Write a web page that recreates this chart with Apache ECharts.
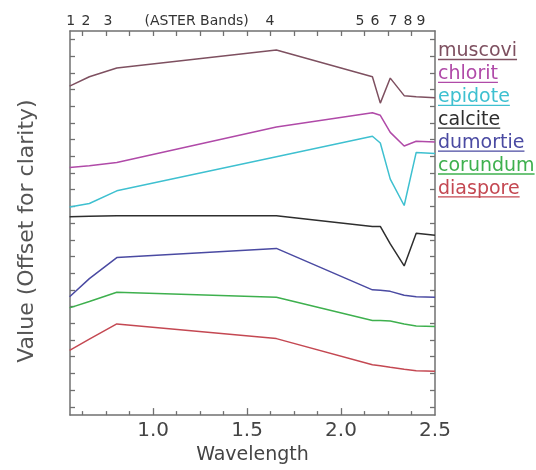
<!DOCTYPE html>
<html>
<head>
<meta charset="utf-8">
<script src="https://cdn.jsdelivr.net/npm/echarts@6/dist/echarts.min.js"></script>
<style>
html, body { margin: 0; padding: 0; background: #fff; }
#chart { width: 536px; height: 470px; }
</style>
</head>
<body>
<div id="chart"></div>
<script>
// ASTER band centres (um); last value is the right edge of the plot
const wavelengths = [0.556, 0.661, 0.807, 1.656, 2.167, 2.209, 2.262, 2.336, 2.400, 2.5];

const minerals = ['muscovi', 'chlorit', 'epidote', 'calcite', 'dumortie', 'corundum', 'diaspore'];
const mineralColors = ['#7e5060', '#b04aa8', '#3ec0d0', '#2e2e2e', '#4a4aa2', '#3eb04e', '#c44852'];

// values (offset units)
const muscovite = [19.70, 20.26, 20.78, 21.86, 20.26, 18.68, 20.18, 19.13, 19.07, 19.00];
const chlorite = [14.83, 14.93, 15.12, 17.25, 18.10, 17.95, 16.93, 16.11, 16.40, 16.35];
const epidote = [12.46, 12.67, 13.43, 15.47, 16.70, 16.29, 14.13, 12.55, 15.73, 15.67];
const calcite = [11.88, 11.91, 11.94, 11.94, 11.30, 11.30, 10.25, 8.93, 10.89, 10.77];
const dumortierite = [7.09, 8.17, 9.43, 9.98, 7.50, 7.47, 7.41, 7.18, 7.09, 7.06];
const corundum = [6.42, 6.80, 7.36, 7.06, 5.66, 5.66, 5.63, 5.46, 5.34, 5.31];
const diaspore = [3.88, 4.55, 5.46, 4.58, 3.01, 2.95, 2.86, 2.74, 2.66, 2.63];

const spectra = [muscovite, chlorite, epidote, calcite, dumortierite, corundum, diaspore];

// axis labels
const wavelengthLabels = [1.0, 1.5, 2.0, 2.5];
const bandLabels = ['1', '2', '3', '(ASTER Bands)', '4', '5', '6', '7', '8', '9'];
const bandLabelPos = [0.562, 0.643, 0.760, 1.232, 1.622, 2.101, 2.181, 2.276, 2.356, 2.425];

// tick positions
const majorTicks = [1.0, 1.5, 2.0];
const minorTicks = [];
for (let v = 0.625; v < 2.5; v += 0.125) {
  if (majorTicks.indexOf(Math.round(v * 1000) / 1000) < 0) minorTicks.push(v);
}
const yTicks = [];
for (let v = 0.5; v < 23; v += 1) yTicks.push(v);

const axisColor = '#707070';
const font = '"DejaVu Sans", sans-serif';

const chart = echarts.init(document.getElementById('chart'));

// legend drawn as underlined text to the right of the plot
const measure = document.createElement('canvas').getContext('2d');
measure.font = '19px "DejaVu Sans"';
const legendItems = [];
minerals.forEach((name, i) => {
  const lineY = 59.5 + i * 22.9;
  const w = measure.measureText(name).width;
  legendItems.push({
    type: 'text',
    x: 438,
    y: lineY - 8,
    style: { text: name, fill: mineralColors[i], font: '19px ' + font, verticalAlign: 'middle' }
  });
  legendItems.push({
    type: 'line',
    shape: { x1: 438, y1: lineY, x2: 438 + w, y2: lineY },
    style: { stroke: mineralColors[i], lineWidth: 1.3 }
  });
});

chart.setOption({
  animation: false,
  backgroundColor: '#fff',
  grid: { left: 70, right: 101, top: 31, bottom: 45, containLabel: false },
  xAxis: [
    {
      type: 'value', position: 'bottom', min: 0.558, max: 2.5,
      name: 'Wavelength', nameLocation: 'middle', nameGap: 26,
      nameTextStyle: { color: '#444', fontSize: 19, fontFamily: font },
      axisLine: { show: true, onZero: false, lineStyle: { color: axisColor, width: 1.5 } },
      axisTick: { show: true, inside: true, length: 7, customValues: majorTicks, lineStyle: { color: axisColor, width: 1.3 } },
      axisLabel: {
        customValues: wavelengthLabels, margin: 6, color: '#444', fontSize: 20, fontFamily: font,
        formatter: v => v.toFixed(1)
      },
      splitLine: { show: false }
    },
    {
      type: 'value', position: 'bottom', min: 0.558, max: 2.5,
      axisLine: { show: false, onZero: false },
      axisTick: { show: true, inside: true, length: 4, customValues: minorTicks, lineStyle: { color: axisColor, width: 1.3 } },
      axisLabel: { show: false },
      splitLine: { show: false }
    },
    {
      type: 'value', position: 'top', min: 0.558, max: 2.5,
      axisLine: { show: true, onZero: false, lineStyle: { color: axisColor, width: 1.5 } },
      axisTick: { show: true, inside: true, length: 5, customValues: minorTicks.concat(majorTicks), lineStyle: { color: axisColor, width: 1.3 } },
      axisLabel: {
        customValues: bandLabelPos, margin: 3, color: '#333', fontSize: 14, fontFamily: font,
        formatter: v => {
          let best = 0;
          bandLabelPos.forEach((p, i) => { if (Math.abs(p - v) < Math.abs(bandLabelPos[best] - v)) best = i; });
          return bandLabels[best];
        }
      },
      splitLine: { show: false }
    }
  ],
  yAxis: [
    {
      type: 'value', position: 'left', min: 0, max: 23,
      name: 'Value (Offset for clarity)', nameLocation: 'middle', nameGap: 32,
      nameTextStyle: { color: '#555', fontSize: 22, fontFamily: font, padding: [0, 16, 0, 0] },
      axisLine: { show: true, onZero: false, lineStyle: { color: axisColor, width: 1.5 } },
      axisTick: { show: true, inside: true, length: 5, customValues: yTicks, lineStyle: { color: axisColor, width: 1.3 } },
      axisLabel: { show: false },
      splitLine: { show: false }
    },
    {
      type: 'value', position: 'right', min: 0, max: 23,
      axisLine: { show: true, onZero: false, lineStyle: { color: axisColor, width: 1.5 } },
      axisTick: { show: true, inside: true, length: 5, customValues: yTicks, lineStyle: { color: axisColor, width: 1.3 } },
      axisLabel: { show: false },
      splitLine: { show: false }
    }
  ],
  series: spectra.map((vals, i) => ({
    name: minerals[i],
    type: 'line',
    xAxisIndex: 0,
    yAxisIndex: 0,
    showSymbol: false,
    symbol: 'none',
    lineStyle: { color: mineralColors[i], width: 1.5 },
    data: wavelengths.map((w, j) => [w, vals[j]])
  })),
  graphic: legendItems
});
</script>
</body>
</html>
